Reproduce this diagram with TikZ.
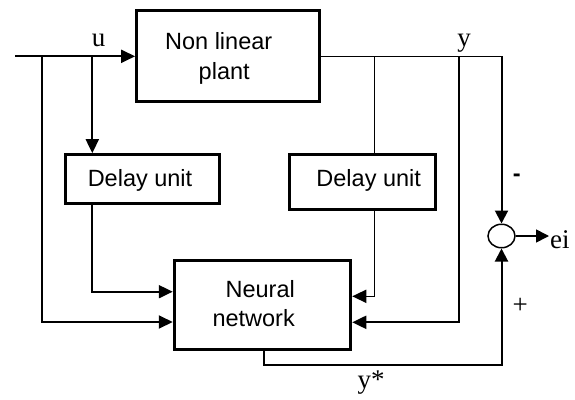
\documentclass[tikz,border=0pt]{standalone}
\usepackage{fontspec}
\setmainfont{Liberation Serif}
\newfontfamily\sansf{Liberation Sans}
\usetikzlibrary{arrows.meta,shapes.geometric}
\begin{document}
\begin{tikzpicture}[x=1pt,y=-1pt,
  blk/.style={draw,line width=3pt,rectangle,inner sep=0pt},
  btxt/.style={inner sep=0pt,font=\sansf\fontsize{23.5}{28}\selectfont},
  lbl/.style={inner sep=0pt,font=\fontsize{27}{31}\selectfont},
  wire/.style={line width=2pt},
  midwire/.style={line width=1.6pt},
  thinwire/.style={line width=1.3pt},
  arr/.style={-{Triangle[length=14pt,width=13pt]}},
  sarr/.style={-{Triangle[length=13pt,width=13pt]}}]
\path[use as bounding box] (0,0) rectangle (575,399);

% blocks
\node[blk,minimum width=182.4pt,minimum height=91.3pt] (plant) at (227.8,56.3) {};
\node[blk,minimum width=153.5pt,minimum height=49pt] (d1) at (142.5,179.2) {};
\node[blk,minimum width=146pt,minimum height=54.6pt] (d2) at (362.7,182) {};
\node[blk,minimum width=176.5pt,minimum height=89.3pt] (nn) at (262.5,304.7) {};
\node[draw,ellipse,line width=1.5pt,minimum width=27pt,minimum height=23.5pt,inner sep=0pt] (sum) at (501.5,236) {};

% block texts
\node[btxt,anchor=base] (pt1) at (218.7,49.3) {Non linear};
\node[btxt,anchor=base] (pt2) at (224.2,79) {plant};
\node[btxt,anchor=base] (d1t) at (140,186) {Delay unit};
\node[btxt,anchor=base] (d2t) at (368.7,186) {Delay unit};
\node[btxt,anchor=base east] (nt1) at (295,297) {Neural};
\node[btxt,anchor=base east] (nt2) at (295,326.7) {network};

% coordinates
\coordinate (in) at (15,56.3);
\coordinate (b1) at (41.7,56.3);
\coordinate (b2) at (92.3,56.3);
\coordinate (b3) at (374.3,56.3);
\coordinate (b4) at (459.3,56.3);
\coordinate (yL1) at (0,291.7);
\coordinate (yL2) at (0,322);
\coordinate (yR1) at (0,296.3);
\coordinate (yR2) at (0,322.3);
\coordinate (tk) at (264,0);
\coordinate (eiend) at (549,236);

% connectors
\draw[wire,arr] (in) -- (plant.west);
\draw[wire,arr] (b1) |- (nn.west |- yL2);
\draw[wire,arr] (b2) -- (b2 |- d1.north);
\draw[wire,arr] (b2 |- d1.south) |- (nn.west |- yL1);
\draw[thinwire] (plant.east) -- (sum.north |- plant.east);
\draw[wire,sarr] (sum.north |- plant.east) -- (sum.north);
\draw[thinwire] (b3) -- (b3 |- d2.north);
\draw[midwire,arr] (b3 |- d2.south) |- (nn.east |- yR1);
\draw[wire,arr] (b4) |- (nn.east |- yR2);
\draw[wire,sarr] (tk |- nn.south) -- ++(0,14) -| (sum.south);
\draw[midwire,sarr] (sum.east) -- (eiend);

% labels
\node[lbl,anchor=base] (lu) at (98.7,46.7) {u};
\node[lbl,anchor=base] (ly) at (464,46) {y};
\node[lbl,anchor=base west] (lei) at (550,248.3) {ei};
\node[lbl] (lplus) at (520.3,305.7) {+};
\node[btxt,font=\sansf\bfseries\fontsize{23.5}{28}\selectfont] (lminus) at (516.7,178) {-};
\node[lbl,anchor=base] (lys) at (371,388.4) {y*};
\end{tikzpicture}
\end{document}
